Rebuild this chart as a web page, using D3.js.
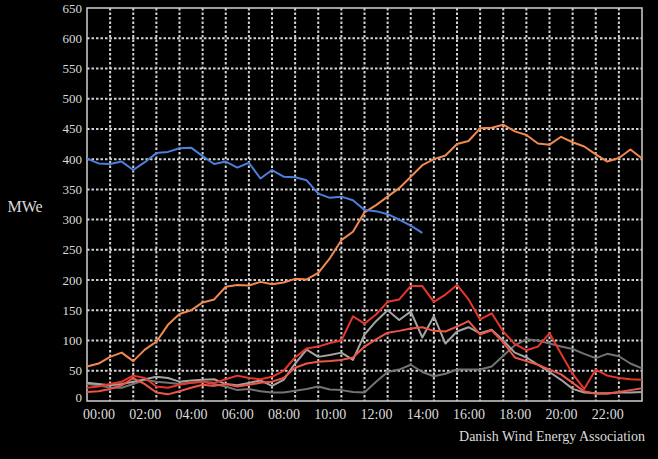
<!DOCTYPE html>
<html>
<head>
<meta charset="utf-8">
<script src="https://cdn.jsdelivr.net/npm/d3@7"></script>
<style>
  html, body { margin: 0; padding: 0; background: #000; }
  svg { display: block; }
  text { font-family: "Liberation Serif", "DejaVu Serif", serif; fill: #dcdcdc; }
</style>
</head>
<body>
<div id="chart"></div>
<script>
// half-hour samples, 00:00 .. 24:00
var hours = d3.range(0, 24.01, 0.5);
var yTicks = [0, 50, 100, 150, 200, 250, 300, 350, 400, 450, 500, 550, 600, 650];
var xTickHours = [0, 2, 4, 6, 8, 10, 12, 14, 16, 18, 20, 22];
var xTickLabels = ['00:00', '02:00', '04:00', '06:00', '08:00', '10:00', '12:00', '14:00', '16:00', '18:00', '20:00', '22:00'];

var blue = [401, 393, 392, 396, 382, 395, 410, 412, 418, 419, 405, 392, 396, 386, 394, 368,
            382, 371, 370, 365, 343, 336, 338, 332, 316, 314, 309, 300, 290, 278,
            null, null, null, null, null, null, null, null, null, null, null, null, null, null,
            null, null, null, null, null];
var orange = [57, 62, 73, 80, 66, 85, 98, 126, 144, 150, 163, 168, 189, 192, 191, 197,
              193, 196, 202, 201, 212, 236, 266, 280, 312, 324, 338, 352, 371, 390,
              400, 406, 425, 430, 451, 452, 457, 446, 440, 426, 424, 437, 428, 421, 408,
              396, 402, 416, 401];
var red = [22, 24, 28, 32, 42, 38, 24, 22, 27, 30, 32, 30, 36, 42, 38, 36,
           40, 50, 72, 87, 90, 96, 100, 140, 128, 143, 164, 168, 190, 190,
           164, 176, 192, 168, 135, 145, 115, 94, 84, 90, 112, 78, 45, 20, 52,
           42, 38, 36, 35];
var salmon = [15, 16, 20, 26, 38, 28, 14, 11, 16, 22, 27, 25, 28, 24, 27, 30,
              32, 38, 55, 62, 65, 66, 68, 72, 90, 102, 113, 116, 120, 122,
              116, 115, 123, 132, 110, 117, 97, 72, 66, 60, 52, 44, 30, 16, 12,
              12, 15, 18, 21];
var lightGray = [30, 28, 26, 28, 32, 36, 40, 38, 32, 34, 35, 36, 28, 26, 30, 34,
                 25, 35, 62, 85, 73, 76, 80, 68, 110, 132, 150, 134, 148, 105,
                 140, 95, 115, 122, 112, 118, 100, 80, 72, 60, 48, 35, 20, 14, 13,
                 13, 14, 14, 15];
var darkGray = [28, 26, 22, 22, 28, 35, 32, 30, 28, 30, 32, 28, 24, 18, 20, 16,
                14, 14, 17, 20, 24, 19, 18, 15, 14, 32, 48, 52, 60, 48,
                41, 45, 52, 52, 52, 57, 75, 92, 102, 100, 95, 90, 86, 78, 71,
                78, 74, 62, 54];

var series = [
  {name: 'darkGray', values: darkGray, color: '#737373'},
  {name: 'lightGray', values: lightGray, color: '#a3a3a3'},
  {name: 'salmon', values: salmon, color: '#ee5546'},
  {name: 'red', values: red, color: '#e8362c'},
  {name: 'orange', values: orange, color: '#f2894e'},
  {name: 'blue', values: blue, color: '#4d7fdc'}
];

var width = 658,
    height = 459,
    plotLeft = 87, plotRight = 642, plotTop = 8, plotBottom = 401;

var x = d3.scaleLinear().domain([0, 24]).range([plotLeft, plotRight]),
    y = d3.scaleLinear().domain([0, 650]).range([plotBottom, plotTop]);

var svg = d3.select('#chart').append('svg')
  .attr('width', width)
  .attr('height', height)
  .style('background', '#000');

// grid, coarse dotted like the original
var grid = svg.append('g').attr('stroke', '#d2d2d2').attr('stroke-width', 2).attr('stroke-dasharray', '2.5,2');

grid.selectAll('line.h').data(yTicks.slice(1, -1)).enter().append('line')
  .attr('class', 'h')
  .attr('x1', plotLeft).attr('x2', plotRight)
  .attr('y1', function(d) { return y(d); })
  .attr('y2', function(d) { return y(d); });

grid.selectAll('line.v').data(d3.range(1, 24)).enter().append('line')
  .attr('class', 'v')
  .attr('y1', plotTop).attr('y2', plotBottom)
  .attr('x1', function(d) { return x(d); })
  .attr('x2', function(d) { return x(d); });

// frame
svg.append('rect')
  .attr('x', plotLeft).attr('y', plotTop)
  .attr('width', plotRight - plotLeft).attr('height', plotBottom - plotTop)
  .attr('fill', 'none')
  .attr('stroke', '#c4c4c4')
  .attr('stroke-width', 1.6);

// lines
var line = d3.line()
  .defined(function(d) { return d != null; })
  .x(function(d, i) { return x(hours[i]); })
  .y(function(d) { return y(d); });

svg.append('g').selectAll('path').data(series).enter().append('path')
  .attr('d', function(s) { return line(s.values); })
  .attr('fill', 'none')
  .attr('stroke', function(s) { return s.color; })
  .attr('stroke-width', 2)
  .attr('stroke-linejoin', 'round');

// y axis labels
svg.append('g').selectAll('text').data(yTicks).enter().append('text')
  .attr('x', 82)
  .attr('y', function(d) { return y(d) - (d === 0 ? 4 : 0); })
  .attr('dy', '0.35em')
  .attr('text-anchor', 'end')
  .style('font-size', '13px')
  .text(function(d) { return d; });

// x axis labels, drawn a little right of the hour line as in the original
svg.append('g').selectAll('text').data(xTickHours).enter().append('text')
  .attr('x', function(d) { return x(d) + 12; })
  .attr('y', 414)
  .attr('dy', '0.35em')
  .attr('text-anchor', 'middle')
  .style('font-size', '14px')
  .text(function(d, i) { return xTickLabels[i]; });

svg.append('text')
  .attr('x', 25).attr('y', 206)
  .attr('dy', '0.35em')
  .attr('text-anchor', 'middle')
  .style('font-size', '16px')
  .text('MWe');

svg.append('text')
  .attr('x', 645).attr('y', 436)
  .attr('dy', '0.35em')
  .attr('text-anchor', 'end')
  .style('font-size', '14px')
  .text('Danish Wind Energy Association');
</script>
</body>
</html>
